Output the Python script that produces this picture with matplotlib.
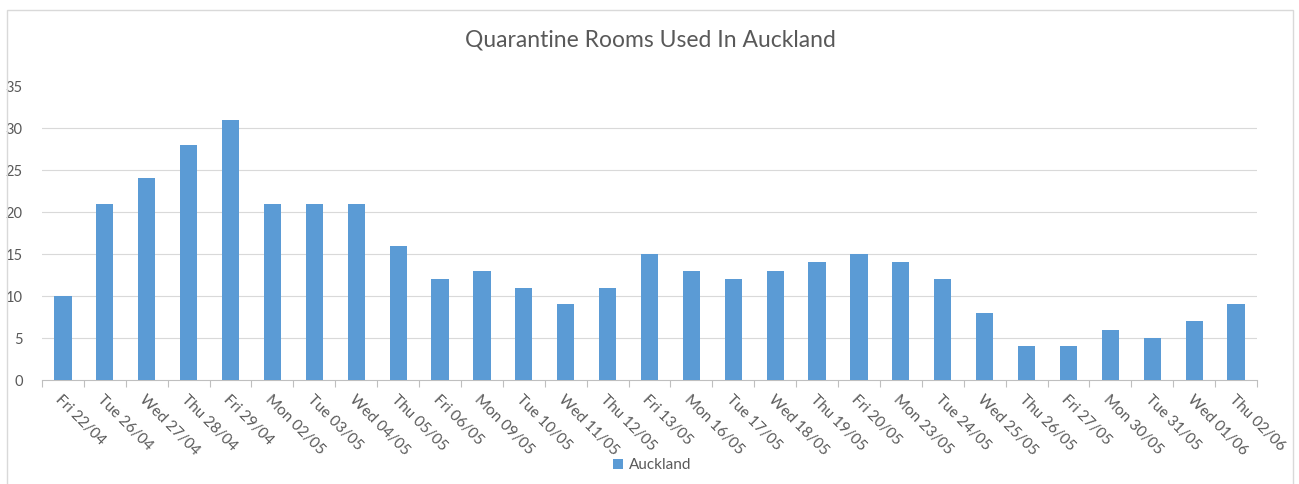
import matplotlib
matplotlib.use("Agg")
import matplotlib.pyplot as plt
from matplotlib.patches import Rectangle
import numpy as np

# data
dates = ["Fri 22/04", "Tue 26/04", "Wed 27/04", "Thu 28/04", "Fri 29/04", "Mon 02/05",
         "Tue 03/05", "Wed 04/05", "Thu 05/05", "Fri 06/05", "Mon 09/05", "Tue 10/05",
         "Wed 11/05", "Thu 12/05", "Fri 13/05", "Mon 16/05", "Tue 17/05", "Wed 18/05",
         "Thu 19/05", "Fri 20/05", "Mon 23/05", "Tue 24/05", "Wed 25/05", "Thu 26/05",
         "Fri 27/05", "Mon 30/05", "Tue 31/05", "Wed 01/06", "Thu 02/06"]
rooms = [10, 21, 24, 28, 31, 21, 21, 21, 16, 12, 13, 11, 9, 11, 15, 13, 12, 13,
         14, 15, 14, 12, 8, 4, 4, 6, 5, 7, 9]
yticks = [0, 5, 10, 15, 20, 25, 30, 35]

plt.rcParams['font.family'] = ['Lato', 'DejaVu Sans']
text_col = '#595959'
bar_col = '#5B9BD5'

W, H = 1299, 484
fig = plt.figure(figsize=(W / 100, H / 100), dpi=100)
ax = fig.add_axes([42 / W, 1 - 380 / H, (1257 - 42) / W, (380 - 86) / H])

x = np.arange(len(dates))
ax.bar(x, rooms, width=0.41, color=bar_col, label='Auckland', zorder=3)

ax.set_xlim(-0.5, len(dates) - 0.5)
ax.set_ylim(0, 35)
ax.set_yticks(yticks)
ax.set_yticklabels([str(v) for v in yticks], color=text_col, fontsize=10.5)
ax.tick_params(axis='y', length=0, pad=14)

# tick marks sit between categories, labels at centres
ax.set_xticks(np.arange(-0.5, len(dates), 1.0))
ax.set_xticklabels([])
ax.tick_params(axis='x', which='major', length=5, color='#BFBFBF', width=0.8)
ax.set_xticks(x, minor=True)
ax.set_xticklabels(dates, minor=True, rotation=-45, ha='left', va='top',
                   rotation_mode='anchor', color=text_col, fontsize=11)
ax.tick_params(axis='x', which='minor', length=0, pad=9)

for v in yticks[1:-1]:
    ax.axhline(v, color='#D9D9D9', linewidth=0.8, zorder=1)

for s in ['top', 'right', 'left']:
    ax.spines[s].set_visible(False)
ax.spines['bottom'].set_color('#BFBFBF')
ax.spines['bottom'].set_linewidth(0.8)

fig.text(650 / W, 1 - 40 / H, 'Quarantine Rooms Used In Auckland', ha='center', va='center',
         fontsize=16.5, color=text_col)

leg = fig.legend(loc='center', bbox_to_anchor=(652 / W, 1 - 465 / H), frameon=False,
                 fontsize=11, handlelength=0.65, handleheight=0.65, handletextpad=0.4)
for t in leg.get_texts():
    t.set_color(text_col)

# chart area border
fig.patches.append(Rectangle((7 / W, -0.05), (1293 - 7) / W, 1.05 - 10 / H,
                             transform=fig.transFigure, fill=False,
                             edgecolor='#D9D9D9', linewidth=1))

fig.savefig('out.png', dpi=100)
